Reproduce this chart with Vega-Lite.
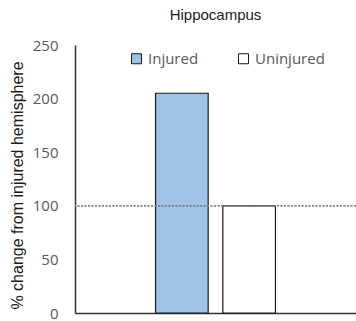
{
  "$schema": "https://vega.github.io/schema/vega-lite/v6.json",
  "width": 281,
  "height": 268,
  "autosize": {"type": "none"},
  "padding": {"left": 75, "top": 45, "right": 0, "bottom": 8},
  "background": "#ffffff",
  "title": {
    "text": "Hippocampus",
    "font": "Liberation Sans",
    "fontSize": 15,
    "fontWeight": "normal",
    "color": "#1a1a1a",
    "anchor": "middle",
    "baseline": "alphabetic",
    "offset": 3
  },
  "config": {
    "view": {"stroke": null}
  },
  "data": {
    "values": [
      {"region": "Hippocampus", "group": "Injured", "value": 205},
      {"region": "Hippocampus", "group": "Uninjured", "value": 100}
    ]
  },
  "layer": [
    {
      "mark": {"type": "bar", "stroke": "#1a1a1a", "strokeWidth": 1.2},
      "encoding": {
        "x": {
          "field": "region",
          "type": "nominal",
          "scale": {"paddingInner": 0, "paddingOuter": 0.672},
          "axis": {
            "labels": false,
            "ticks": false,
            "title": null,
            "domainColor": "#333333",
            "domainWidth": 1.5
          }
        },
        "xOffset": {
          "field": "group",
          "type": "nominal",
          "sort": ["Injured", "Uninjured"],
          "scale": {"paddingInner": 0.218, "paddingOuter": 0}
        },
        "y": {
          "field": "value",
          "type": "quantitative",
          "scale": {"domain": [0, 250], "nice": false},
          "axis": {
            "values": [0, 50, 100, 150, 200, 250],
            "grid": false,
            "ticks": false,
            "tickSize": 0,
            "labelPadding": 17,
            "labelFont": "Open Sans",
            "labelFontSize": 15,
            "labelColor": "#595959",
            "domainColor": "#333333",
            "domainWidth": 1.5,
            "title": "% change from injured hemisphere",
            "titleFont": "Liberation Sans",
            "titleFontSize": 16,
            "titleFontWeight": "normal",
            "titleColor": "#1a1a1a",
            "titlePadding": 7,
            "titleY": 140
          }
        },
        "color": {
          "field": "group",
          "type": "nominal",
          "scale": {"domain": ["Injured", "Uninjured"], "range": ["#9DC3E6", "#FFFFFF"]},
          "legend": {
            "title": null,
            "orient": "none",
            "direction": "horizontal",
            "legendX": 54,
            "legendY": 6,
            "symbolType": "square",
            "symbolSize": 100,
            "symbolStrokeColor": "#1a1a1a",
            "symbolStrokeWidth": 1,
            "symbolOpacity": 1,
            "labelFont": "Open Sans",
            "labelFontSize": 15,
            "labelColor": "#595959",
            "labelOffset": 4,
            "columnPadding": 37
          }
        }
      }
    },
    {
      "mark": {"type": "rule", "color": "#808080", "strokeWidth": 1.3, "strokeDash": [2, 1.5]},
      "encoding": {
        "y": {"datum": 100}
      }
    }
  ]
}
